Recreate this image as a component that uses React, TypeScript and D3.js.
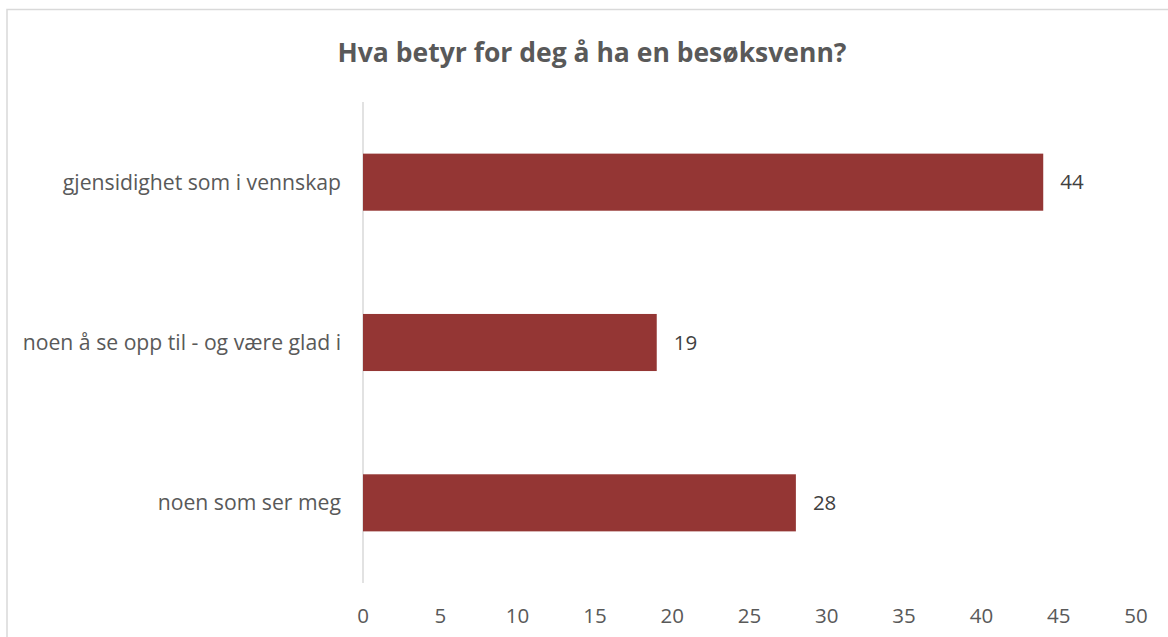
import React from "react";
import * as d3 from "d3";

const categories = ["gjensidighet som i vennskap", "noen å se opp til - og være glad i", "noen som ser meg"];
const values = [44, 19, 28];
const ticks = [0, 5, 10, 15, 20, 25, 30, 35, 40, 45, 50];
const title = "Hva betyr for deg å ha en besøksvenn?";

export default function App() {
  const W = 1168, H = 637;
  const x = d3.scaleLinear().domain([0, 50]).range([363, 1136]);
  const y = d3.scaleBand<string>().domain(categories).range([102, 583]).paddingInner(0.644).paddingOuter(0.322);
  const font = "'Open Sans', sans-serif";
  return (
    <svg width={W} height={H} style={{ position: "absolute", left: 0, top: 0, background: "#fff" }} fontFamily={font}>
      <rect x={7} y={9.5} width={1200} height={700} fill="#fff" stroke="#d9d9d9" strokeWidth={1.5} />
      <text x={592} y={62} textAnchor="middle" fontSize={26.5} fontWeight="bold" fill="#595959">{title}</text>
      <line x1={x(0)} x2={x(0)} y1={102} y2={583} stroke="#d9d9d9" strokeWidth={1.5} />
      {categories.map((c, i) => (
        <g key={c}>
          <rect x={x(0)} y={y(c)} width={x(values[i]) - x(0)} height={y.bandwidth()} fill="#943634" />
          <text x={x(0) - 22} y={(y(c) as number) + y.bandwidth() / 2} dy="0.35em" textAnchor="end" fontSize={21.2} fill="#595959">{c}</text>
          <text x={x(values[i]) + 17} y={(y(c) as number) + y.bandwidth() / 2} dy="0.35em" fontSize={20.5} fill="#404040">{values[i]}</text>
        </g>
      ))}
      {ticks.map((t) => (
        <text key={t} x={x(t)} y={615.5} dy="0.35em" textAnchor="middle" fontSize={20.5} fill="#595959">{t}</text>
      ))}
    </svg>
  );
}
